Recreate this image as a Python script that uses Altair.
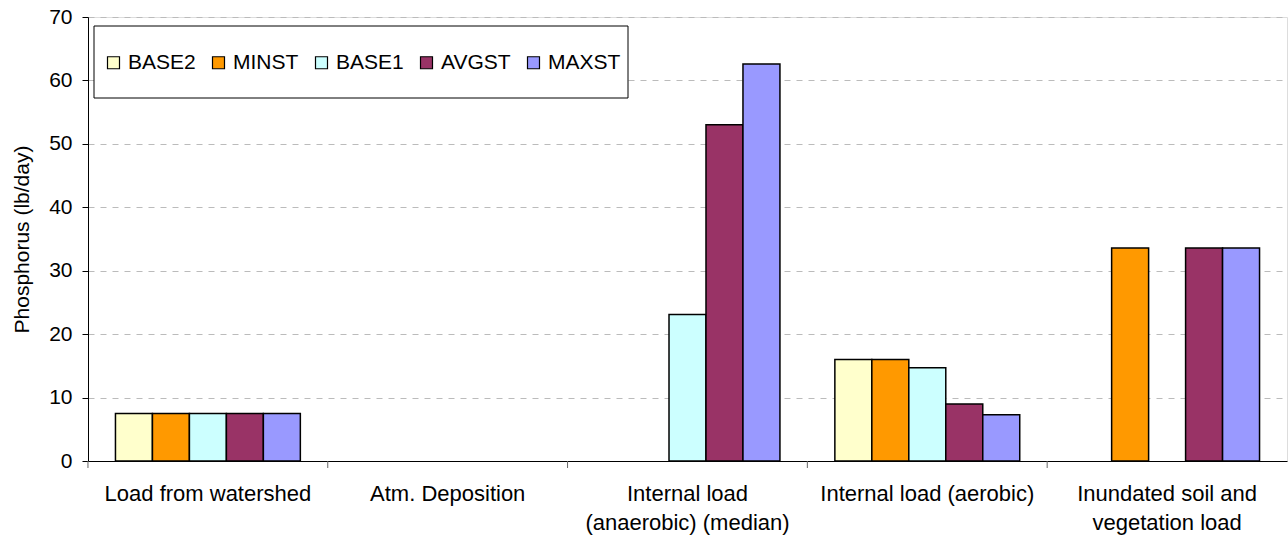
import altair as alt
import pandas as pd

categories = ["Load from watershed", "Atm. Deposition", "Internal load\n(anaerobic) (median)",
              "Internal load (aerobic)", "Inundated soil and\nvegetation load"]
series = ["BASE2", "MINST", "BASE1", "AVGST", "MAXST"]
colors = ["#FFFFCC", "#FF9900", "#CCFFFF", "#993366", "#9999FF"]

values = {
    "BASE2": [7.5, 0, 0, 16.0, 0],
    "MINST": [7.5, 0, 0, 16.0, 33.6],
    "BASE1": [7.5, 0, 23.1, 14.7, 0],
    "AVGST": [7.5, 0, 53.0, 9.0, 33.6],
    "MAXST": [7.5, 0, 62.6, 7.3, 33.6],
}

rows = []
for s in series:
    for c, v in zip(categories, values[s]):
        rows.append({"category": c, "series": s, "value": v})
df = pd.DataFrame(rows)
cat_df = pd.DataFrame({"category": categories})

FONT = "Liberation Sans"
FS = 21
xscale = alt.Scale(domain=categories, paddingInner=0.229, paddingOuter=0.1145)

bars = alt.Chart(df).transform_filter("datum.value > 0").mark_bar(
    stroke="black", strokeWidth=1.5
).encode(
    x=alt.X("category:N", sort=categories, scale=xscale, title=None,
            axis=alt.Axis(ticks=False, labelAngle=0, labelFontSize=22, labelFont=FONT,
                          labelColor="black", labelPadding=22, labelLineHeight=29,
                          labelLimit=0, domainColor="black", domainWidth=1,
                          labelExpr="split(datum.label, '\\n')")),
    xOffset=alt.XOffset("series:N", sort=series,
                        scale=alt.Scale(domain=series, paddingInner=0, paddingOuter=0)),
    y=alt.Y("value:Q", scale=alt.Scale(domain=[0, 70], nice=False),
            title="Phosphorus (lb/day)",
            axis=alt.Axis(values=list(range(0, 71, 10)), tickSize=6, tickColor="black",
                          labelFontSize=FS, labelFont=FONT, labelColor="black", labelPadding=10,
                          titleFontSize=FS, titleFont=FONT, titleFontWeight="normal",
                          titleColor="black", titlePadding=16,
                          domainColor="black", grid=True, gridColor="#BBBBBB",
                          gridDash=[6, 6], gridWidth=1)),
    color=alt.Color("series:N", sort=series, scale=alt.Scale(domain=series, range=colors),
                    legend=alt.Legend(orient="none", legendX=15, legendY=35, direction="horizontal",
                                      columns=5, title=None, symbolType="square", symbolSize=144,
                                      symbolStrokeColor="black", symbolStrokeWidth=1.2,
                                      symbolOpacity=1,
                                      labelFontSize=FS, labelFont=FONT, labelColor="black",
                                      labelOffset=4, columnPadding=12, padding=0)),
)

ticks = alt.Chart(cat_df).mark_rule(color="#666666", strokeWidth=1).encode(
    x=alt.X("category:N", sort=categories, scale=xscale, bandPosition=0),
    xOffset=alt.value(-27.5),
    y=alt.value(444), y2=alt.value(451),
)

legend_box = alt.Chart(alt.Data(values=[{"a": 1}])).mark_rect(
    fill="white", stroke="black", strokeWidth=1
).encode(x=alt.value(6), x2=alt.value(540), y=alt.value(9), y2=alt.value(81))

chart = alt.layer(bars, ticks, legend_box).properties(
    width=1199, height=444,
    autosize=alt.AutoSizeParams(type="none"),
    padding={"left": 88, "top": 17, "right": 1, "bottom": 78},
).configure_view(stroke="#888888", strokeWidth=1).configure(background="white")

chart.save("out.html", embed_options={"renderer": "svg", "actions": False})
